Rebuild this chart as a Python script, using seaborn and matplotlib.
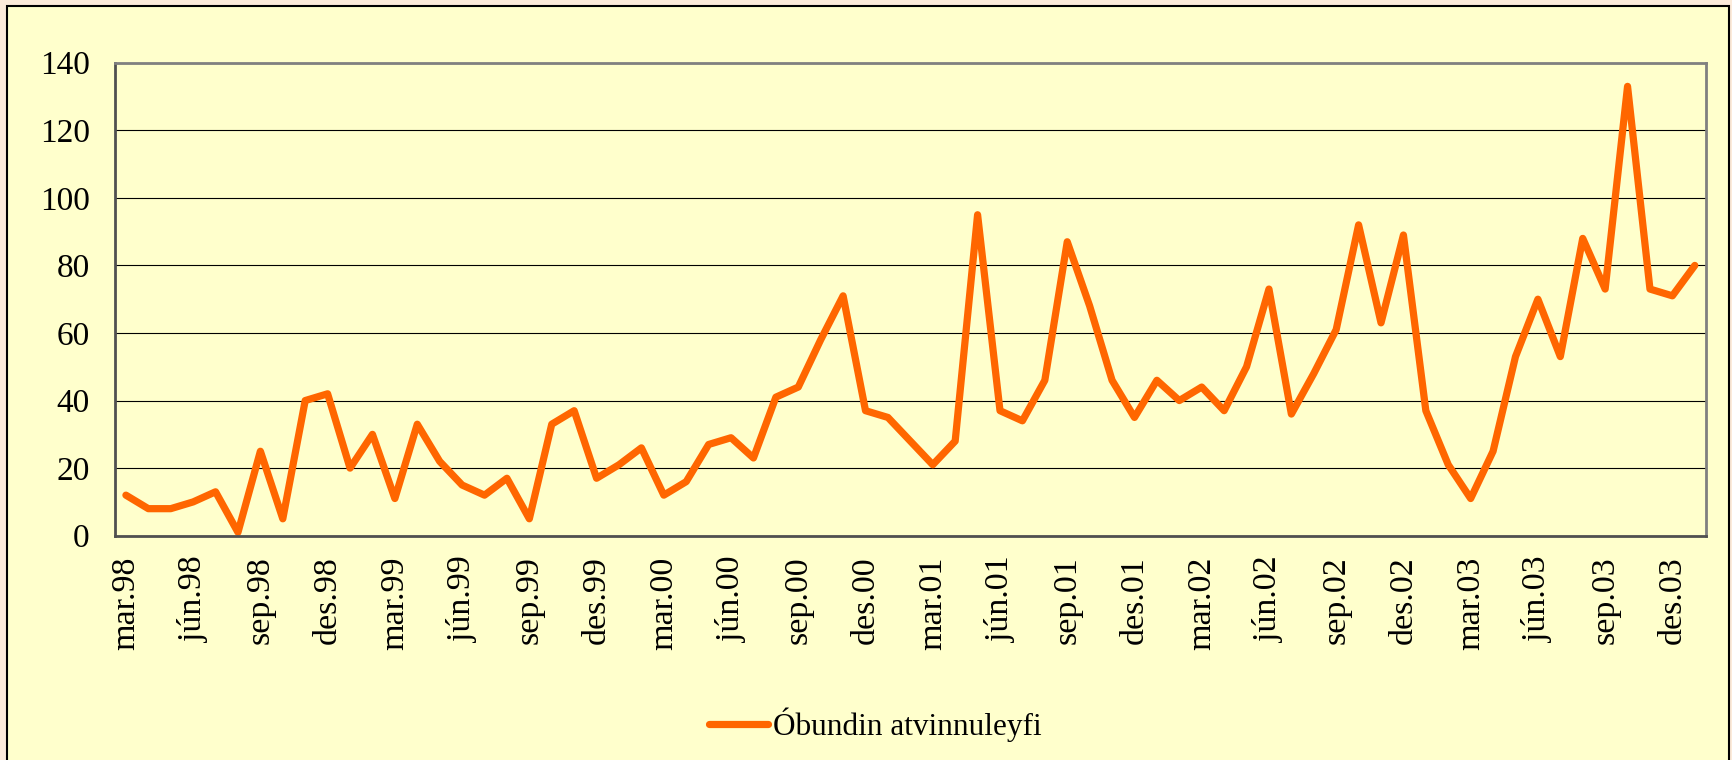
import numpy as np
import pandas as pd
import matplotlib
matplotlib.use('Agg')
import matplotlib.pyplot as plt
import seaborn as sns
from matplotlib.patches import Rectangle

# monthly values, mar.98 - jan.04
values = [12, 8, 8, 10, 13, 1, 25, 5, 40, 42,
          20, 30, 11, 33, 22, 15, 12, 17, 5, 33,
          37, 17, 21, 26, 12, 16, 27, 29, 23, 41,
          44, 58, 71, 37, 35, 28, 21, 28, 95, 37,
          34, 46, 87, 68, 46, 35, 46, 40, 44, 37,
          50, 73, 36, 48, 61, 92, 63, 89, 37, 21,
          11, 25, 53, 70, 53, 88, 73, 133, 73, 71,
          80]
months = ['jan', 'feb', 'mar', 'apr', 'maí', 'jún',
          'júl', 'ágú', 'sep', 'okt', 'nóv', 'des']
start_year = 1998
start_month = 2  # mar
series_name = 'Óbundin atvinnuleyfi'
yticks = [0, 20, 40, 60, 80, 100, 120, 140]

labels = []
for i in range(len(values)):
    m = (start_month + i) % 12
    y = (start_year + (start_month + i) // 12) % 100
    labels.append(f'{months[m]}.{y:02d}')

df = pd.DataFrame({'idx': np.arange(len(values)), 'val': values, 'label': labels})

sns.set_style('white')
plt.rcParams['font.family'] = ['Liberation Serif', 'DejaVu Serif']
plt.rcParams['text.color'] = 'black'
plt.rcParams['xtick.color'] = 'black'
plt.rcParams['ytick.color'] = 'black'

fig = plt.figure(figsize=(17.33, 7.6), dpi=100)
fig.patch.set_facecolor('#FCEBDA')
fig.patches.append(Rectangle((7 / 1733, -0.05), (1729 - 7) / 1733, 1.05 - 6 / 760,
                             transform=fig.transFigure, facecolor='#FFFFCC',
                             edgecolor='black', linewidth=1.5, zorder=-10))

ax = fig.add_axes([114.7 / 1733, 1 - 535.7 / 760, (1706 - 114.7) / 1733, (535.7 - 62.7) / 760])
ax.set_zorder(5)
ax.set_facecolor('#FFFFCC')

sns.lineplot(data=df, x='idx', y='val', ax=ax, color='#FF6600', linewidth=5.2,
             label=series_name, legend=False)
ax.lines[0].set_solid_capstyle('round')

ax.set_xlim(-0.5, len(values) - 0.5)
ax.set_ylim(0, 140)
ax.set_yticks(yticks)
ax.set_yticklabels([str(t) for t in yticks], fontsize=24)
ax.yaxis.grid(True, color='black', linewidth=0.8)
ax.set_axisbelow(True)

# label every third month, ticks on category boundaries
major = list(range(0, len(values), 3))
ax.set_xticks(major)
ax.set_xticklabels([labels[i] for i in major], rotation=90, fontsize=24.5)
ax.set_xticks(np.arange(-0.5, len(values), 1), minor=True)
ax.tick_params(axis='x', which='major', length=0, pad=15)
ax.tick_params(axis='x', which='minor', length=8, width=1, color='#404040', direction='out')
ax.tick_params(axis='y', length=8, width=1, color='#404040', direction='out', pad=10)
ax.set_xlabel('')
ax.set_ylabel('')

for side in ['top', 'right', 'bottom', 'left']:
    ax.spines[side].set_visible(True)
    ax.spines[side].set_color('#808080')
    ax.spines[side].set_linewidth(2)
ax.spines['left'].set_color('#505050')
ax.spines['bottom'].set_color('#505050')

handles, lbls = ax.get_legend_handles_labels()
leg = fig.legend(handles, lbls, loc='center', bbox_to_anchor=(0.505, 0.046), frameon=False,
                 fontsize=22.5, handlelength=1.9, handletextpad=0.15)
for t in leg.get_texts():
    t.set_color('black')

fig.savefig('out.png', dpi=100, facecolor=fig.get_facecolor())
